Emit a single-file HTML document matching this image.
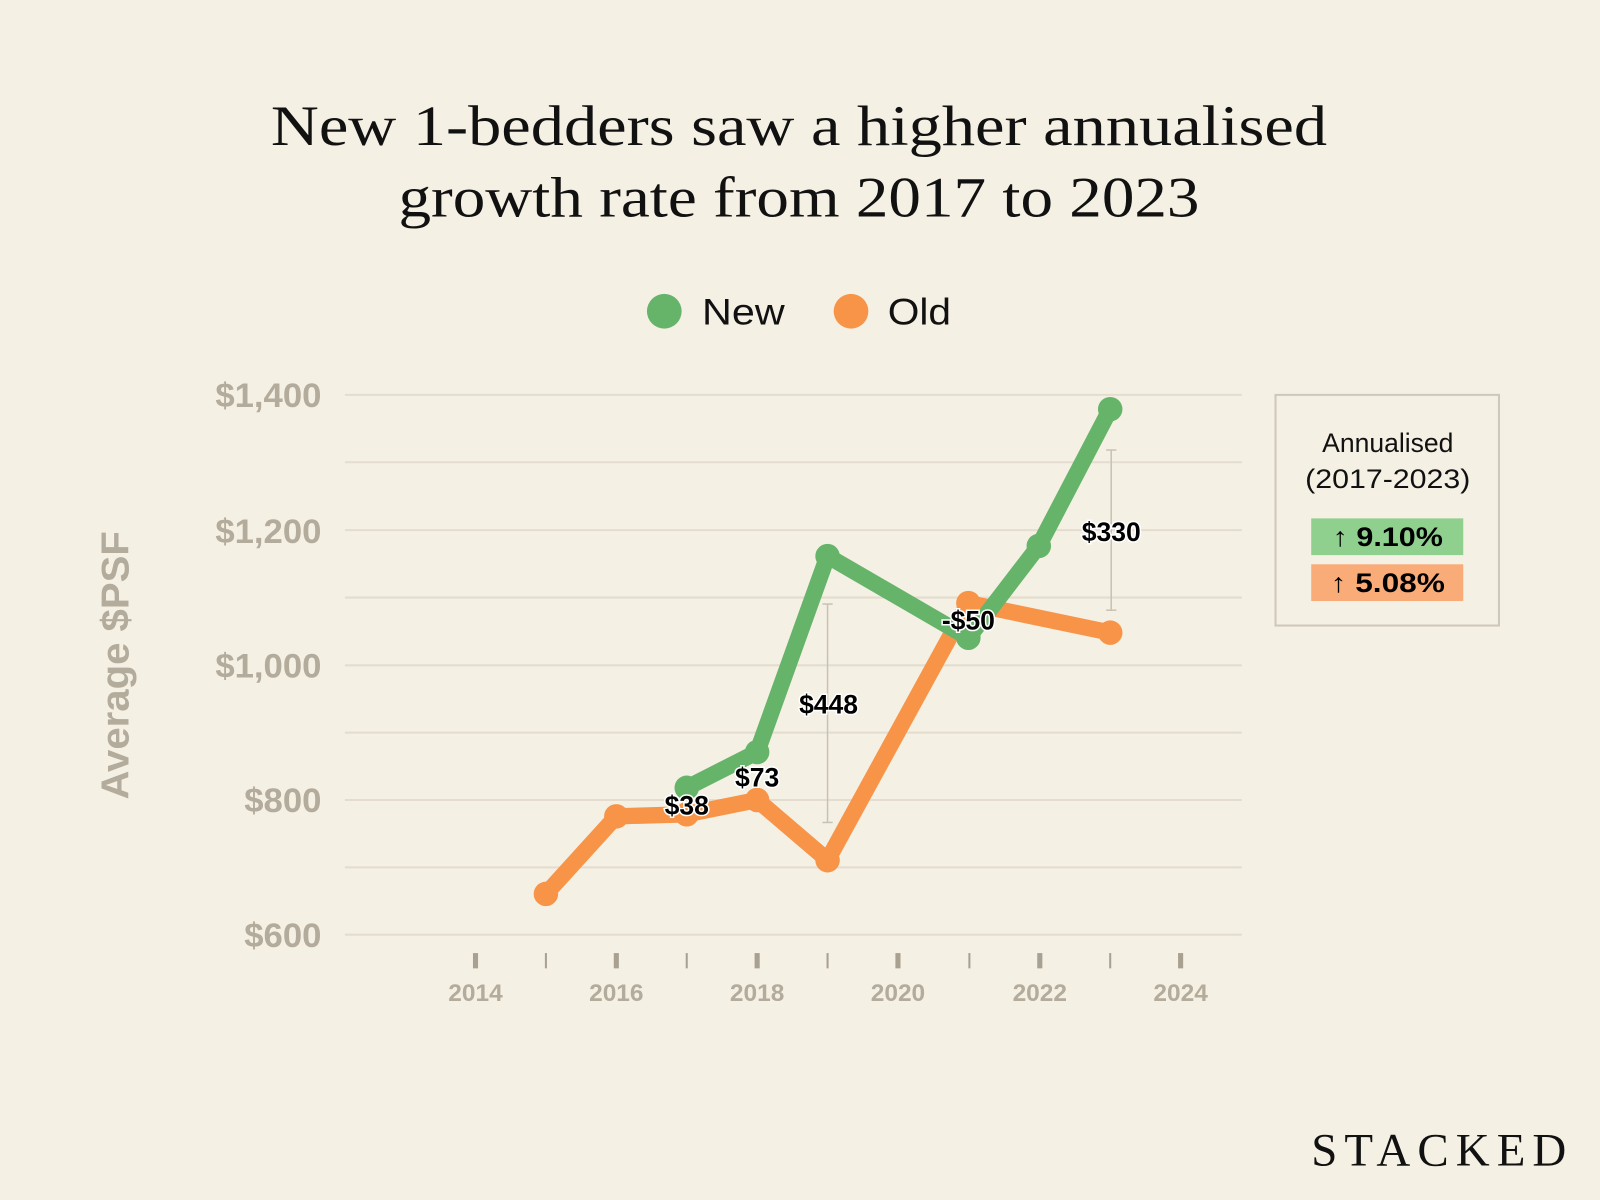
<!DOCTYPE html>
<html><head><meta charset="utf-8"><style>html,body{margin:0;padding:0;background:#f5f0e4;}svg{display:block}</style></head>
<body>
<svg width="1600" height="1200" viewBox="0 0 1568 1176" xmlns="http://www.w3.org/2000/svg">
<rect width="1568" height="1176" fill="#f5f0e4"/>
<g font-family="Liberation Serif, serif" font-size="56" fill="#111" text-anchor="middle">
<text x="783" y="142" textLength="1035" lengthAdjust="spacingAndGlyphs">New 1-bedders saw a higher annualised</text>
<text x="783" y="212" textLength="785" lengthAdjust="spacingAndGlyphs">growth rate from 2017 to 2023</text>
</g>
<circle cx="651" cy="305" r="17" fill="#66b36a"/>
<text x="688" y="318" font-family="Liberation Sans, sans-serif" font-size="36" fill="#111" textLength="81" lengthAdjust="spacingAndGlyphs">New</text>
<circle cx="834" cy="305" r="17" fill="#f79448"/>
<text x="870" y="318" font-family="Liberation Sans, sans-serif" font-size="36" fill="#111" textLength="62" lengthAdjust="spacingAndGlyphs">Old</text>
<g stroke="#e4ddcf" stroke-width="2">
<line x1="338" x2="1217" y1="387" y2="387"/><line x1="338" x2="1217" y1="453" y2="453"/>
<line x1="338" x2="1217" y1="519.5" y2="519.5"/><line x1="338" x2="1217" y1="585.6" y2="585.6"/>
<line x1="338" x2="1217" y1="652" y2="652"/><line x1="338" x2="1217" y1="718" y2="718"/>
<line x1="338" x2="1217" y1="784" y2="784"/><line x1="338" x2="1217" y1="850" y2="850"/>
<line x1="338" x2="1217" y1="916" y2="916"/>
</g>
<g font-family="Liberation Sans, sans-serif" font-weight="bold" font-size="34" fill="#b3ab9b" text-anchor="end">
<text x="315" y="399">$1,400</text><text x="315" y="532">$1,200</text><text x="315" y="664">$1,000</text>
<text x="315" y="796">$800</text><text x="315" y="928">$600</text>
</g>
<text transform="translate(126,652) rotate(-90)" text-anchor="middle" font-family="Liberation Sans, sans-serif" font-weight="bold" font-size="38" fill="#b3ab9b" textLength="263" lengthAdjust="spacingAndGlyphs">Average $PSF</text>
<g stroke="#a8a090">
<line x1="466" x2="466" y1="934" y2="949" stroke-width="5"/><line x1="604" x2="604" y1="934" y2="949" stroke-width="5"/>
<line x1="742" x2="742" y1="934" y2="949" stroke-width="5"/><line x1="880" x2="880" y1="934" y2="949" stroke-width="5"/>
<line x1="1019" x2="1019" y1="934" y2="949" stroke-width="5"/><line x1="1157" x2="1157" y1="934" y2="949" stroke-width="5"/>
<line x1="535" x2="535" y1="934" y2="949" stroke-width="2"/><line x1="673" x2="673" y1="934" y2="949" stroke-width="2"/>
<line x1="811" x2="811" y1="934" y2="949" stroke-width="2"/><line x1="950" x2="950" y1="934" y2="949" stroke-width="2"/>
<line x1="1088" x2="1088" y1="934" y2="949" stroke-width="2"/>
</g>
<g font-family="Liberation Sans, sans-serif" font-weight="bold" font-size="24" fill="#b3ab9b" text-anchor="middle">
<text x="466" y="981">2014</text><text x="604" y="981">2016</text><text x="742" y="981">2018</text>
<text x="880" y="981">2020</text><text x="1019" y="981">2022</text><text x="1157" y="981">2024</text>
</g>
<g stroke="#c9c2b4" stroke-width="1.5">
<line x1="811" x2="811" y1="592" y2="806"/><line x1="806" x2="816" y1="592" y2="592"/><line x1="806" x2="816" y1="806" y2="806"/>
<line x1="1089" x2="1089" y1="441" y2="598"/><line x1="1084" x2="1094" y1="441" y2="441"/><line x1="1084" x2="1094" y1="598" y2="598"/>
</g>
<polyline points="535,876 604,800 673,798 742,784 811,843 949,591 1088,620" fill="none" stroke="#f79448" stroke-width="16" stroke-linejoin="round"/>
<g fill="#f79448"><circle cx="535" cy="876" r="12"/><circle cx="604" cy="800" r="12"/><circle cx="673" cy="798" r="12"/><circle cx="742" cy="784" r="12"/><circle cx="811" cy="843" r="12"/><circle cx="949" cy="591" r="12"/><circle cx="1088" cy="620" r="12"/></g>
<polyline points="673,772 742,737 811,545 949,625 1018,535 1088,401" fill="none" stroke="#66b36a" stroke-width="16" stroke-linejoin="round"/>
<g fill="#66b36a"><circle cx="673" cy="772" r="12"/><circle cx="742" cy="737" r="12"/><circle cx="811" cy="545" r="12"/><circle cx="949" cy="625" r="12"/><circle cx="1018" cy="535" r="12"/><circle cx="1088" cy="401" r="12"/></g>
<g font-family="Liberation Sans, sans-serif" font-weight="bold" font-size="26" fill="#000" text-anchor="middle" stroke="#fff" stroke-width="3" paint-order="stroke">
<text x="673" y="798">$38</text><text x="742" y="771">$73</text><text x="812" y="699">$448</text>
<text x="949" y="617">-$50</text><text x="1089" y="530">$330</text>
</g>
<rect x="1250" y="387" width="219" height="226" fill="none" stroke="#cfc8ba" stroke-width="2"/>
<g font-family="Liberation Sans, sans-serif" font-size="26" fill="#111" text-anchor="middle">
<text x="1360" y="443">Annualised</text><text x="1360" y="478" textLength="162" lengthAdjust="spacingAndGlyphs">(2017-2023)</text>
</g>
<rect x="1285" y="508" width="149" height="36" fill="#8fd08f"/>
<rect x="1285" y="553" width="149" height="36" fill="#f9ab78"/>
<g font-family="Liberation Sans, sans-serif" font-weight="bold" font-size="26" fill="#000" text-anchor="middle">
<text x="1360" y="535" textLength="108" lengthAdjust="spacingAndGlyphs">↑ 9.10%</text><text x="1360" y="580" textLength="112" lengthAdjust="spacingAndGlyphs">↑ 5.08%</text>
</g>
<text x="1410" y="1142" text-anchor="middle" font-family="Liberation Serif, serif" font-size="46" fill="#111" textLength="250" lengthAdjust="spacing">STACKED</text>
</svg>
</body></html>
